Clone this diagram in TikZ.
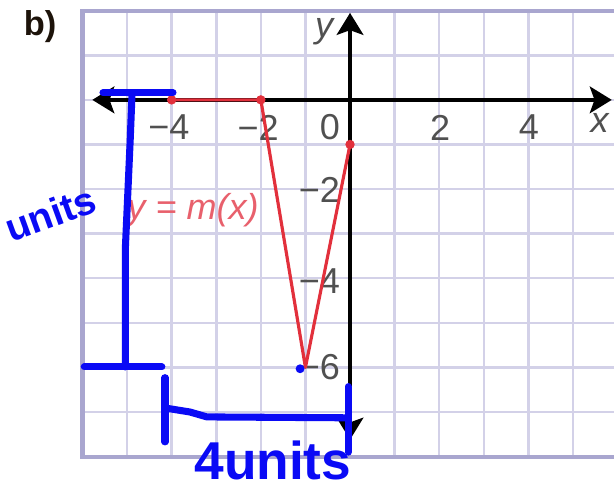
\documentclass[tikz,border=0pt]{standalone}
\usepackage{fontspec}
\setmainfont{Liberation Sans}
\usetikzlibrary{arrows.meta}
\definecolor{gridline}{HTML}{D3D1E8}
\definecolor{gridframe}{HTML}{A9A6CF}
\definecolor{graphred}{HTML}{E2303C}
\definecolor{labelred}{HTML}{E8606C}
\definecolor{penblue}{HTML}{0A0AF5}
\definecolor{ticklabel}{HTML}{505050}
\begin{document}
\begin{tikzpicture}[
		tick/.style={font=\fontsize{23}{23}\selectfont, text=ticklabel, inner sep=0pt},
		redpt/.style={circle, fill=graphred, inner sep=0pt, minimum size=6pt},
		axis/.style={line width=2.4pt, {Stealth[length=14pt,width=17pt,inset=3pt]}-{Stealth[length=14pt,width=17pt,inset=3pt]}},
		pen/.style={penblue, line width=4.5pt, line cap=round, line join=round},
		hand/.style={text=penblue, font=\fontsize{32}{32}\selectfont\bfseries, inner sep=0pt}
	]
		\useasboundingbox (-7.85,-8.77) rectangle (5.92,2.24);
		\begin{scope}
			\clip (-7.85,-8.77) rectangle (5.92,2.24);
			\draw[gridline, line width=1.6pt] (-6,-8) grid (6.5,2);
			\draw[gridframe, line width=2.6pt] (6.5,2) -- (-6,2) -- (-6,-8) -- (6.5,-8);
		\end{scope}
		
		\coordinate (xl) at (-5.78,0);
		\coordinate (xr) at (5.87,0);
		\coordinate (yt) at (0,1.95);
		\coordinate (yb) at (0,-7.62);
		\draw[axis] (xl) -- (xr);
		\draw[axis] (yb) -- (yt);
		
		\node[tick] (xlab) at (5.6,-0.52) {\itshape x};
		\node[tick] (ylab) at (-0.58,1.52) {\itshape y};
		\node[tick] (xm4) at (-4.06,-0.62) {−4};
		\node[tick] (xm2) at (-2.06,-0.62) {−2};
		\node[tick] (x0) at (-0.45,-0.62) {0};
		\node[tick] (x2) at (2.02,-0.62) {2};
		\node[tick] (x4) at (4.01,-0.62) {4};
		\node[tick, anchor=east] (ym2) at (-0.22,-2.02) {−2};
		\node[tick, anchor=east] (ym4) at (-0.22,-4.06) {−4};
		\node[tick, anchor=east] (ym6) at (-0.22,-6.0) {−6};
		
		\coordinate (pa) at (-4,0);
		\coordinate (pb) at (-2,0);
		\coordinate (pc) at (-1,-6);
		\coordinate (pd) at (0,-1);
		\draw[graphred, line width=2pt, line join=round] (pa) -- (pb) -- (pc) -- (pd);
		\node[redpt] (da) at (pa) {};
		\node[redpt] (db) at (pb) {};
		\node[redpt] (dd) at (pd) {};
		\node[text=labelred, font=\fontsize{23}{23}\selectfont\itshape, inner sep=0pt] (mlab) at (-3.52,-2.47) {y = m(x)};
		
		\node[font=\fontsize{22}{22}\selectfont\bfseries, text=black!85!brown, inner sep=0pt] (part) at (-6.95,1.64) {b)};
		
		\fill[penblue] (-1.12,-6.03) circle (0.1);
		\draw[pen] (-5.54,0.16) -- (-3.97,0.16);
		\draw[pen] (-4.89,0.11) -- (-4.93,-0.9) -- (-5.04,-3.36) -- (-5.04,-5.99);
		\draw[pen] (-5.96,-5.99) -- (-4.22,-5.99);
		\draw[pen] (-4.15,-6.23) -- (-4.15,-7.67);
		\draw[pen] (-4.15,-6.91) -- (-3.59,-7.0) -- (-3.21,-7.11) -- (-0.07,-7.13);
		\draw[pen] (-0.04,-6.43) -- (-0.04,-7.9);
		\node[hand, font=\fontsize{25}{25}\selectfont\bfseries] (vunits) at (-6.72,-2.55) [rotate=20] {units};
		\node[hand, font=\fontsize{34}{34}\selectfont\bfseries] (hunits) at (-1.73,-8.08) {4units};
	\end{tikzpicture}
\end{document}
